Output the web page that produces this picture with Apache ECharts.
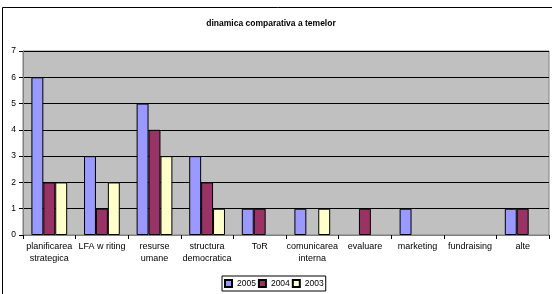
<!DOCTYPE html>
<html>
<head>
<meta charset="utf-8">
<script src="https://cdn.jsdelivr.net/npm/echarts@6/dist/echarts.min.js"></script>
<style>
  html, body { margin: 0; padding: 0; background: #fff; }
  #chart { width: 552px; height: 294px; }
</style>
</head>
<body>
<div id="chart"></div>
<script>
// categories and values
var categories = [
  "planificarea\nstrategica",
  "LFA w riting",
  "resurse\numane",
  "structura\ndemocratica",
  "ToR",
  "comunicarea\ninterna",
  "evaluare",
  "marketing",
  "fundraising",
  "alte"
];
var seriesNames = ["2005", "2004", "2003"];
var values2005 = [6, 3, 5, 3, 1, 1, 0, 1, 0, 1];
var values2004 = [2, 1, 4, 2, 1, 0, 1, 0, 0, 1];
var values2003 = [2, 2, 3, 1, 0, 1, 0, 0, 0, 0];
var colors = ["#9999FF", "#993366", "#FFFFCC"];

// zero bars are not drawn in the original
function hideZero(arr) {
  return arr.map(function (v) { return v === 0 ? null : v; });
}

var chart = echarts.init(document.getElementById("chart"));
var allValues = [values2005, values2004, values2003];

chart.setOption({
  animation: false,
  textStyle: { fontFamily: "Liberation Sans, Arial, sans-serif" },
  title: {
    text: "dinamica comparativa a temelor",
    left: 266,
    textAlign: "center",
    top: 14,
    textStyle: { fontSize: 8.5, fontWeight: "bold", color: "#000" }
  },
  graphic: [
    {
      type: "rect",
      shape: { x: 2.5, y: 7.5, width: 560, height: 300 },
      style: { fill: null, stroke: "#000", lineWidth: 1 },
      silent: true
    }
  ],
  legend: {
    data: seriesNames,
    left: 222,
    top: 276,
    itemWidth: 7,
    itemHeight: 7,
    itemGap: 2,
    padding: [3, 2, 3, 2],
    borderColor: "#000",
    borderWidth: 1,
    icon: "rect",
    textStyle: { fontSize: 8.5, color: "#000" }
  },
  grid: {
    left: 23,
    right: 3,
    top: 51,
    bottom: 59,
    show: true,
    backgroundColor: "#C0C0C0",
    borderColor: "#808080",
    borderWidth: 1
  },
  xAxis: {
    type: "category",
    data: categories,
    axisLine: { lineStyle: { color: "#808080" } },
    axisTick: { show: true, length: 4, lineStyle: { color: "#000" } },
    axisLabel: { interval: 0, fontSize: 9, color: "#000", lineHeight: 12, margin: 6 }
  },
  yAxis: {
    type: "value",
    min: 0,
    max: 7,
    interval: 1,
    axisLine: { show: true, lineStyle: { color: "#808080" } },
    axisTick: { show: true, length: 4, lineStyle: { color: "#000" } },
    axisLabel: { fontSize: 8.5, color: "#000", margin: 7 },
    splitLine: { lineStyle: { color: "#000", width: 1 } }
  },
  series: seriesNames.map(function (name, i) {
    return {
      name: name,
      type: "bar",
      data: hideZero(allValues[i]),
      barGap: "0%",
      barCategoryGap: "32%",
      itemStyle: { color: colors[i], borderColor: "#000", borderWidth: 1 }
    };
  })
});
</script>
</body>
</html>
